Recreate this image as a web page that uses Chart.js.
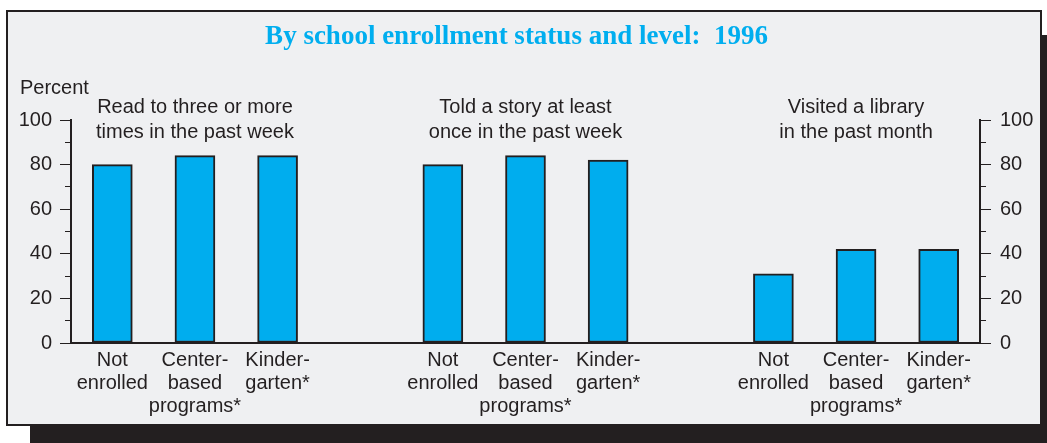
<!DOCTYPE html>
<html>
<head>
<meta charset="utf-8">
<script src="https://cdn.jsdelivr.net/npm/chart.js@4.4.1/dist/chart.umd.min.js"></script>
<style>
  html, body { margin: 0; padding: 0; background: #ffffff; width: 1047px; height: 443px; overflow: hidden; }
  #panel {
    position: absolute; left: 6px; top: 10px;
    width: 1032px; height: 412px;
    border: 2px solid #231f20;
    background: #eff0f2;
    box-shadow: 24px 25px 0 #231f20;
  }
  #chart { position: absolute; left: 0; top: 0; }
</style>
</head>
<body>
<div id="panel"></div>
<canvas id="chart" width="1047" height="443"></canvas>
<script>
// Percent of children, by enrollment level, for three literacy activities (1996)
const titleText = 'By school enrollment status and level:  1996';
const axisTitle = 'Percent';
const measures = [
  ['Read to three or more', 'times in the past week'],
  ['Told a story at least', 'once in the past week'],
  ['Visited a library', 'in the past month']
];
const levels = [
  ['Not', 'enrolled'],
  ['Center-', 'based', 'programs*'],
  ['Kinder-', 'garten*']
];
const readTo = [80, 84, 84];
const toldStory = [80, 84, 82];
const visitedLibrary = [31, 42, 42];
const yTickLabels = [0, 20, 40, 60, 80, 100];

const INK = '#231f20';
const BAR = '#00adee';
const SANS = '"Liberation Sans", Arial, Helvetica, sans-serif';

// One category slot per bar, with an empty slot between activity groups
const labels = [];
const values = [];
const groupCenters = [];
[readTo, toldStory, visitedLibrary].forEach((vals, g) => {
  if (g > 0) { labels.push(''); values.push(null); }
  vals.forEach((v, i) => { labels.push(levels[i]); values.push(v); });
  groupCenters.push(labels.length - 2);
});

const isMajor = v => yTickLabels.includes(v);

// Activity headings above each group, plus the "Percent" unit label
const headings = {
  id: 'headings',
  afterDraw(chart) {
    const { ctx, chartArea, scales } = chart;
    ctx.save();
    ctx.font = '20px ' + SANS;
    ctx.fillStyle = INK;
    ctx.textBaseline = 'alphabetic';
    ctx.textAlign = 'center';
    measures.forEach((lines, g) => {
      const cx = scales.x.getPixelForValue(groupCenters[g]);
      lines.forEach((t, j) => ctx.fillText(t, cx, chartArea.top - 7 + j * 25));
    });
    ctx.textAlign = 'left';
    ctx.fillText(axisTitle, 20, chartArea.top - 26);
    ctx.restore();
  }
};

function yAxis(position, width, pad) {
  return {
    position,
    min: 0,
    max: 100,
    ticks: {
      stepSize: 10,
      autoSkip: false,
      padding: pad,
      color: INK,
      font: { family: SANS, size: 20 },
      callback: v => (isMajor(v) ? String(v) : '')
    },
    grid: {
      drawOnChartArea: false,
      drawTicks: true,
      tickLength: 11,
      tickWidth: 1,
      tickColor: INK,
      // minor ticks are half length, kept next to the axis line
      tickBorderDash: c => (isMajor(c.tick.value) ? [] : (position === 'left' ? [5, 5] : [5, 100])),
      tickBorderDashOffset: c => (isMajor(c.tick.value) ? 0 : (position === 'left' ? 5 : 0))
    },
    border: { display: true, color: INK, width: 2 },
    afterFit(s) { s.width = width; }
  };
}

new Chart(document.getElementById('chart'), {
  type: 'bar',
  data: {
    labels,
    datasets: [{
      data: values,
      yAxisID: 'y',
      backgroundColor: BAR,
      borderColor: INK,
      borderWidth: 2,
      borderSkipped: false,
      barThickness: 40
    }]
  },
  options: {
    responsive: false,
    animation: false,
    layout: { padding: { left: 0, right: 14, top: 0, bottom: 0 } },
    plugins: {
      legend: { display: false },
      tooltip: { enabled: false },
      title: {
        display: true,
        text: titleText,
        color: '#00aeef',
        font: { family: '"Liberation Serif", "Times New Roman", serif', size: 27, weight: 'bold', lineHeight: 1.2 },
        padding: { top: 21, bottom: 66.6 }
      }
    },
    scales: {
      x: {
        type: 'category',
        offset: true,
        grid: { display: false, drawTicks: false },
        border: { display: true, color: INK, width: 2 },
        ticks: {
          autoSkip: false,
          maxRotation: 0,
          padding: 6,
          color: INK,
          font: { family: SANS, size: 20, lineHeight: 1.15 }
        },
        afterFit(s) { s.height = 100; }
      },
      y: yAxis('left', 71, 8),
      y2: yAxis('right', 53, 9)
    }
  },
  plugins: [headings]
});
</script>
</body>
</html>
